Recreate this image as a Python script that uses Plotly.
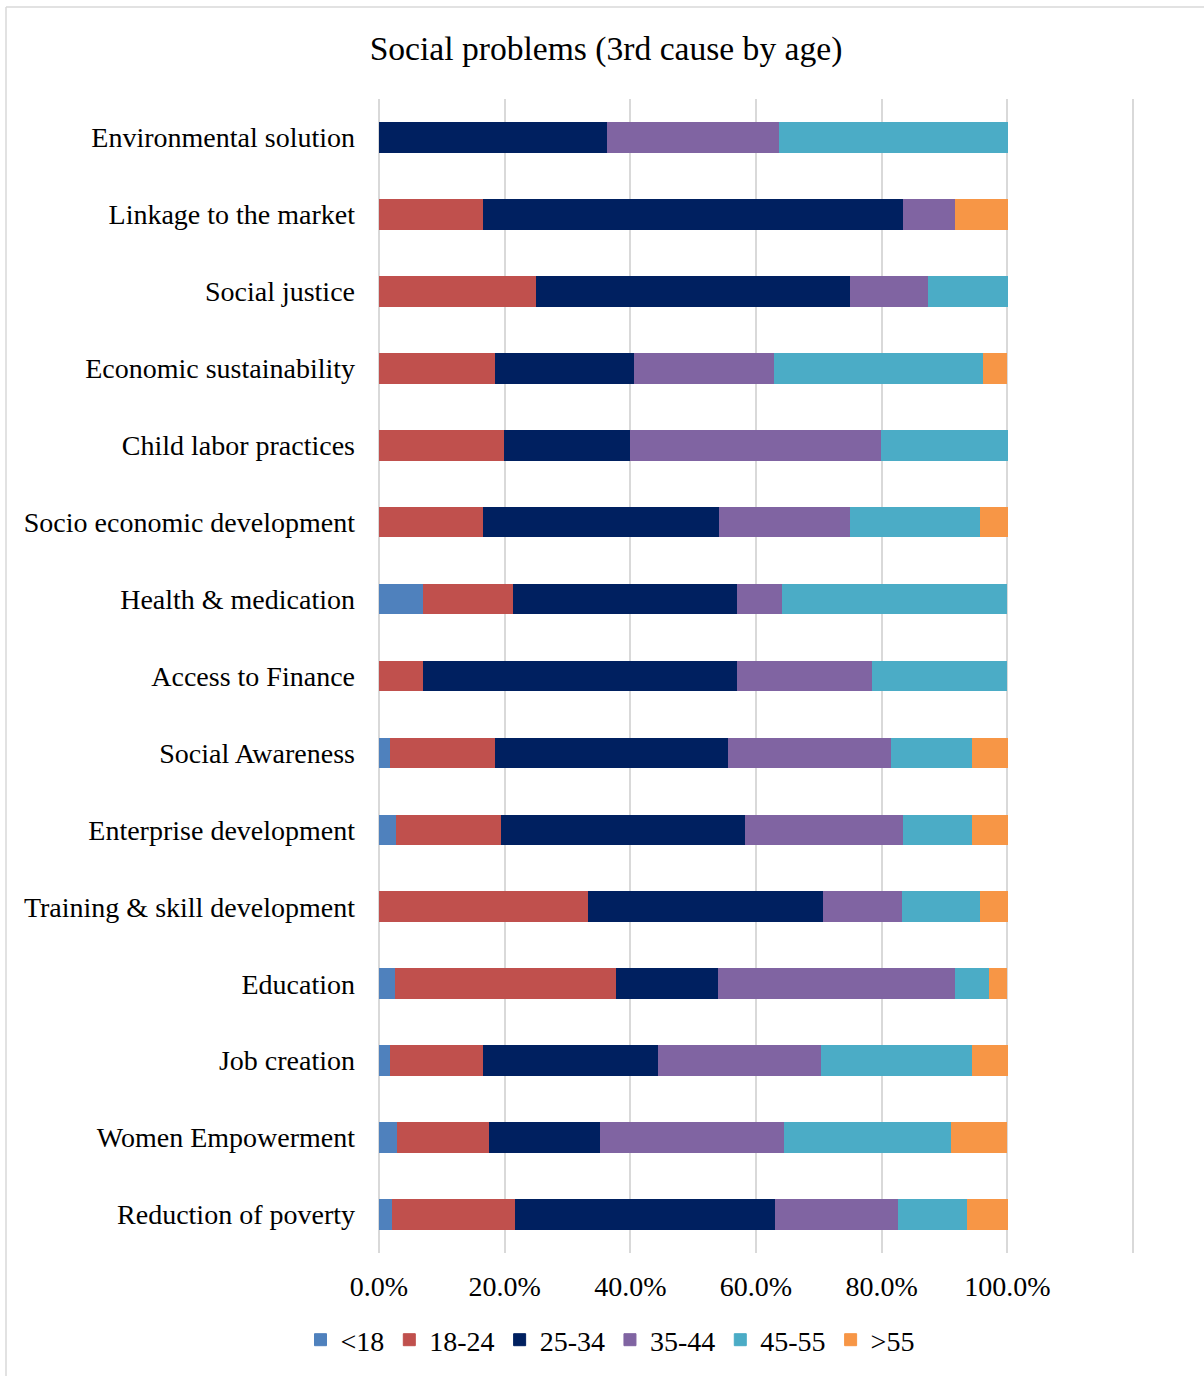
import plotly.graph_objects as go

categories = [
    "Environmental solution",
    "Linkage to the market",
    "Social justice",
    "Economic sustainability",
    "Child labor practices",
    "Socio economic development",
    "Health & medication",
    "Access to Finance",
    "Social Awareness",
    "Enterprise development",
    "Training & skill development",
    "Education",
    "Job creation",
    "Women Empowerment",
    "Reduction of poverty",
]

series_names = ["<18", "18-24", "25-34", "35-44", "45-55", ">55"]

under_18 = [0.0, 0.0, 0.0, 0.0, 0.0, 0.0, 7.1, 0.0, 1.9, 2.8, 0.0, 2.7, 1.9, 2.9, 2.2]
age_18_24 = [0.0, 16.7, 25.0, 18.5, 20.0, 16.7, 14.3, 7.1, 16.7, 16.7, 33.3, 35.1, 14.8, 14.7, 19.6]
age_25_34 = [36.4, 66.7, 50.0, 22.2, 20.0, 37.5, 35.7, 50.0, 37.0, 38.9, 37.5, 16.2, 27.8, 17.6, 41.3]
age_35_44 = [27.3, 8.3, 12.5, 22.2, 40.0, 20.8, 7.1, 21.4, 25.9, 25.0, 12.5, 37.8, 25.9, 29.4, 19.6]
age_45_55 = [36.4, 0.0, 12.5, 33.3, 20.0, 20.8, 35.7, 21.4, 13.0, 11.1, 12.5, 5.4, 24.1, 26.5, 10.9]
over_55 = [0.0, 8.3, 0.0, 3.7, 0.0, 4.2, 0.0, 0.0, 5.6, 5.6, 4.2, 2.7, 5.6, 8.8, 6.5]

x_tick_values = [0.0, 0.2, 0.4, 0.6, 0.8, 1.0, 1.2]
x_tick_labels = ["0.0%", "20.0%", "40.0%", "60.0%", "80.0%", "100.0%", ""]

colors = ["#4F81BD", "#C0504D", "#002060", "#8064A2", "#4BACC6", "#F79646"]
all_series = [under_18, age_18_24, age_25_34, age_35_44, age_45_55, over_55]

FONT = "Liberation Serif, Times New Roman, serif"

fig = go.Figure()
for name, vals, col in zip(series_names, all_series, colors):
    fig.add_trace(go.Bar(
        y=categories,
        x=[(v / 100.0) if v > 0 else None for v in vals],
        name=name,
        orientation="h",
        marker=dict(color=col, line=dict(color=col, width=1.0)),
    ))

W, H = 1204, 1376
L, R, T, B = 377, 69, 99, 123
pw = W - L - R
ph = H - T - B
UNIT = 754 / 1.2            # pixels per 1.0 on the x axis
X0_PX = 379                 # pixel where 0 sits
x_lo = -(X0_PX - L) / UNIT
x_hi = x_lo + pw / UNIT

def px2x(px):
    return (px - L) / pw

def py2y(py):
    return (H - B - py) / ph

fig.update_layout(
    width=W, height=H,
    margin=dict(l=L, r=R, t=T, b=B, pad=0, autoexpand=False),
    barmode="stack",
    bargap=0.615,
    paper_bgcolor="white",
    plot_bgcolor="white",
    font=dict(family=FONT, size=28, color="#000000"),
    title=dict(
        text="Social problems (3rd cause by age)",
        x=606 / W, xanchor="center",
        y=1 - 48 / H, yanchor="middle",
        yref="container", xref="container",
        font=dict(family=FONT, size=33.6, color="#000000"),
    ),
    xaxis=dict(
        range=[x_lo, x_hi],
        tickvals=x_tick_values,
        ticktext=x_tick_labels,
        showgrid=True,
        gridcolor="#D9D9D9",
        gridwidth=2,
        zeroline=False,
        showline=False,
        ticks="",
        ticklabelstandoff=14,
        tickfont=dict(family=FONT, size=28),
        fixedrange=True,
        automargin=False,
    ),
    yaxis=dict(
        categoryorder="array",
        categoryarray=categories,
        autorange="reversed",
        showgrid=False,
        zeroline=False,
        showline=False,
        ticks="",
        ticklabelstandoff=21,
        tickfont=dict(family=FONT, size=28),
        fixedrange=True,
        automargin=False,
    ),
    legend=dict(
        orientation="h",
        x=px2x(610), xanchor="center",
        y=py2y(1340), yanchor="middle",
        font=dict(family=FONT, size=28),
        itemwidth=30,
        traceorder="normal",
        bgcolor="rgba(0,0,0,0)",
    ),
    showlegend=True,
    shapes=[
        dict(type="line", xref="paper", yref="paper",
             x0=px2x(6), x1=px2x(6), y0=py2y(7), y1=py2y(1400),
             line=dict(color="#D9D9D9", width=1.5), layer="below"),
        dict(type="line", xref="paper", yref="paper",
             x0=px2x(6), x1=px2x(1250), y0=py2y(7), y1=py2y(7),
             line=dict(color="#D9D9D9", width=1.5), layer="below"),
    ],
)

fig.write_html("out.html")
